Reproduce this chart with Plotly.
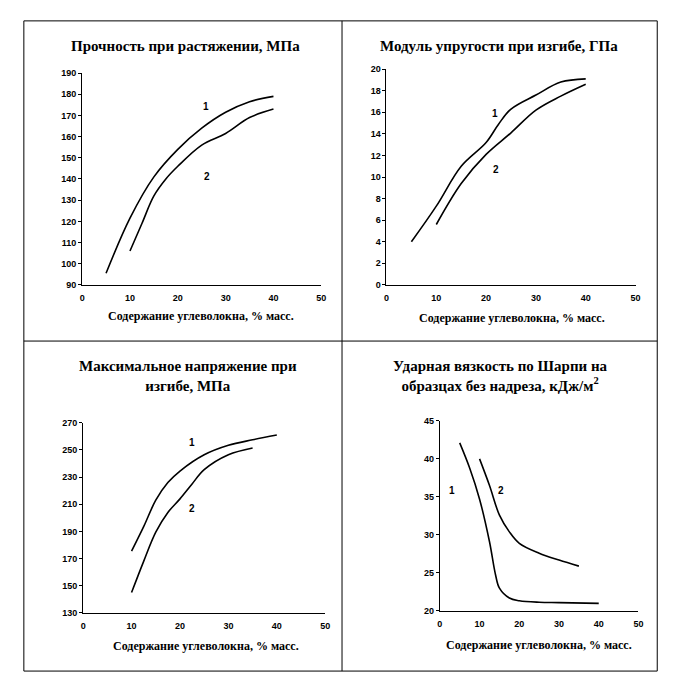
import plotly.graph_objects as go

# ---------------- data ----------------
titles = [
    "Прочность при растяжении, МПа",
    "Модуль упругости при изгибе, ГПа",
    "Максимальное напряжение при<br>изгибе, МПа",
    "Ударная вязкость по Шарпи на<br>образцах без надреза, кДж/м<sup>2</sup>",
]
x_title = "Содержание углеволокна, % масс."
series_names = ["1", "2"]

# Panel 1: tensile strength, MPa
p1_x1 = [5, 10, 15, 20, 25, 30, 35, 40]
p1_y1 = [95.5, 121.5, 141, 154, 164, 171.5, 176.5, 179]
p1_x2 = [10, 12.5, 15, 17.5, 20, 25, 30, 35, 40]
p1_y2 = [106, 119, 132, 140, 146, 156, 161.5, 169, 173]

# Panel 2: flexural modulus, GPa
p2_x1 = [5, 10, 15, 20, 22.5, 25, 30, 35, 40]
p2_y1 = [4.0, 7.3, 11.0, 13.2, 14.9, 16.3, 17.6, 18.8, 19.1]
p2_x2 = [10, 15, 20, 25, 30, 35, 40]
p2_y2 = [5.6, 9.4, 12.1, 14.1, 16.2, 17.5, 18.6]

# Panel 3: max flexural stress, MPa
p3_x1 = [10, 12.5, 15, 17.5, 20, 25, 30, 35, 40]
p3_y1 = [175.5, 193.5, 213, 226, 234.5, 246.5, 253.5, 257.5, 261]
p3_x2 = [10, 12.5, 15, 17.5, 20, 22.5, 25, 30, 35]
p3_y2 = [145, 168, 189.5, 204, 214, 225, 235.5, 246.5, 251.5]

# Panel 4: Charpy impact strength, kJ/m2
p4_x1 = [5, 7.5, 10, 12.5, 14, 15, 17.5, 20, 25, 30, 40]
p4_y1 = [42.1, 38.8, 34.7, 29.1, 24.8, 23.0, 21.7, 21.35, 21.15, 21.1, 21.0]
p4_x2 = [10, 12.5, 15, 17.5, 20, 25, 30, 35]
p4_y2 = [40.0, 36.5, 32.6, 30.4, 28.9, 27.6, 26.7, 25.9]

# series label positions (data coordinates)
lab_pos = [
    [(25.8, 174), (26.1, 141)],
    [(21.7, 15.9), (21.9, 10.7)],
    [(22.4, 255.5), (22.5, 206.8)],
    [(3.1, 35.9), (15.3, 35.9)],
]

y_ranges = [[90, 190], [0, 20], [130, 270], [20, 45]]
y_dticks = [10, 2, 20, 5]
x_range = [0, 50]
x_dtick = 10

# ---------------- layout geometry ----------------
W, H = 675, 673
def px(x):
    return x / W
def py(y):
    return 1 - y / H

x_domains = [[px(72), px(314)], [px(380), px(632)], [px(73), px(318)], [px(434), px(635)]]
y_domains = [[py(276), py(61)], [py(276), py(57)], [py(609), py(416)], [py(607), py(414)]]
title_pos = [(px(177), py(33)), (px(494), py(33)), (px(179), py(368)), (px(495), py(368))]
xlab_pos = [(px(192), py(308)), (px(507), py(310)), (px(197), py(643)), (px(534), py(642))]

serif = "Liberation Serif"
sans = "Liberation Sans"

fig = go.Figure()
panels = [
    (p1_x1, p1_y1, p1_x2, p1_y2),
    (p2_x1, p2_y1, p2_x2, p2_y2),
    (p3_x1, p3_y1, p3_x2, p3_y2),
    (p4_x1, p4_y1, p4_x2, p4_y2),
]

annotations = []
for i, (xa, ya, xb, yb) in enumerate(panels):
    n = "" if i == 0 else str(i + 1)
    for xs, ys, name in [(xa, ya, series_names[0]), (xb, yb, series_names[1])]:
        fig.add_trace(go.Scatter(
            x=xs, y=ys, mode="lines", name=name,
            line=dict(color="black", width=1.6, shape="spline", smoothing=1.0),
            xaxis="x" + n, yaxis="y" + n, showlegend=False,
        ))
    common_axis = dict(
        showgrid=False, zeroline=False, showline=True, linecolor="black",
        linewidth=1, tickfont=dict(family=sans, size=9, color="black", weight="bold"),
    )
    fig.layout["xaxis" + n] = dict(
        common_axis, domain=x_domains[i], range=x_range, dtick=x_dtick, tick0=0,
        anchor="y" + n, ticks="", ticklabelstandoff=4,
    )
    fig.layout["yaxis" + n] = dict(
        common_axis, domain=y_domains[i], range=y_ranges[i], dtick=y_dticks[i],
        tick0=y_ranges[i][0], anchor="x" + n, ticks="outside", ticklen=3,
        tickcolor="black",
    )
    for (lx, ly), name in zip(lab_pos[i], series_names):
        annotations.append(dict(
            x=lx, y=ly, xref="x" + n, yref="y" + n, text=name, showarrow=False,
            font=dict(family=sans, size=10, color="black", weight="bold"),
        ))
    annotations.append(dict(
        x=title_pos[i][0], y=title_pos[i][1], xref="paper", yref="paper",
        text=titles[i], showarrow=False, xanchor="center", yanchor="middle",
        font=dict(family=serif, size=15, color="black", weight="bold"),
    ))
    annotations.append(dict(
        x=xlab_pos[i][0], y=xlab_pos[i][1], xref="paper", yref="paper",
        text=x_title, showarrow=False, xanchor="center", yanchor="middle",
        font=dict(family=serif, size=12, color="black", weight="bold"),
    ))

# frame lines
L, M, R = px(13), px(335), px(654)
T, MID, B = py(8), py(333), py(668)
shapes = []
for (x0, y0, x1, y1) in [
    (L, T, R, T), (L, MID, R, MID), (L, B, R, B),
    (L, T, L, B), (M, T, M, B), (R, T, R, B),
]:
    shapes.append(dict(type="line", xref="paper", yref="paper", x0=x0, y0=y0,
                       x1=x1, y1=y1, line=dict(color="black", width=1)))

fig.update_layout(
    width=W, height=H, margin=dict(l=0, r=0, t=0, b=0),
    paper_bgcolor="white", plot_bgcolor="white",
    annotations=annotations, shapes=shapes, showlegend=False,
)

fig.write_html("out.html")
